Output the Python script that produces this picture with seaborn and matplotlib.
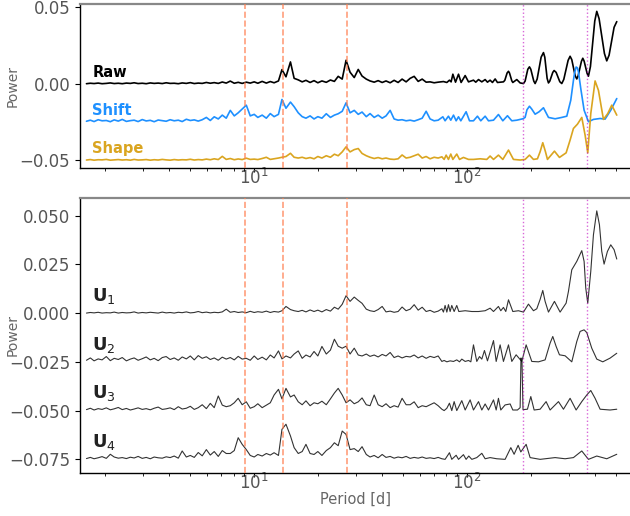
import numpy as np
import matplotlib
matplotlib.use("Agg")
import matplotlib.pyplot as plt
import seaborn as sns

# === periodogram values, power in units of 1e-4 ===
# shared short-period grid (days)
p_short = [1.63, 1.70, 1.77, 1.85, 1.93, 2.02, 2.11, 2.20, 2.30, 2.40,
           2.51, 2.62, 2.73, 2.85, 2.98, 3.11, 3.25, 3.39, 3.54, 3.70,
           3.86, 4.03, 4.21, 4.40, 4.59, 4.80, 5.01, 5.23, 5.46, 5.70,
           5.96, 6.22, 6.49, 6.78, 7.08, 7.39, 7.72, 8.06, 8.41, 8.78,
           9.18, 9.58, 10.0, 10.4, 10.9, 11.4, 11.9, 12.4, 13.0, 13.5,
           14.1, 14.8, 15.4, 16.1, 16.8, 17.5, 18.3, 19.1, 19.9, 20.8,
           21.8, 22.8, 23.8, 24.8, 25.9, 27.0, 28.2, 29.5, 30.8, 32.1,
           33.6, 35.0, 36.6, 38.2, 39.9, 41.6, 43.5, 45.4, 47.4, 49.5,
           51.7, 54.0, 56.4, 58.9, 61.5, 64.2, 67.0, 70.0, 73.1]

raw_short = [0, 3, 1, 4, 0, 2, 5, 1, 3, 0, 4, 2, 6, 1, 3, 0, 5, 2, 4, 1,
             6, 2, 3, 0, 5, 2, 7, 1, 4,
             2, 8, 3, 7, 2, 11, 4, 17, 3, 9, 2, 10, 4,
             12, 3, 15, 4, 14, 6, 18,
             92, 45, 142, 35, 25, 12, 22, 8, 20, 6,
             18, 9, 24, 15, 48, 30, 153, 75, 40, 93,
             50, 30, 18, 10, 20, 8, 18, 6, 22, 8,
             30, 12, 35, 48, 15, 30, 10, 12, 6, 10]
shift_short = [5, 12, 3, 15, 8, 10, 2, 14, 6, 17, 4, 9, 12, 3, 16, 7, 11, 2, 13, 9,
               5, 15, 8, 12, 3, 18, 10, 14, 6,
               15, 30, 10, 34, 20, 45, 25, 76, 40, 60, 85, 110, 40,
               50, 30, 45, 25, 55, 35, 50,
               147, 90, 130, 100, 60, 35, 25, 40, 20, 35,
               25, 54, 30, 45, 54, 70, 125, 60, 76, 50,
               65, 35, 55, 30, 45, 25, 40, 76, 20, 12,
               15, 8, 12, 6, 15, 25, 70, 20, 8, 12]
shape_short = [2, 5, 1, 4, 3, 6, 1, 3, 5, 2, 4, 1, 6, 2, 3, 5, 1, 4, 2, 6,
               3, 1, 5, 2, 4, 3, 7, 2, 5,
               3, 8, 4, 10, 5, 26, 6, 12, 4, 9, 5, 14, 6,
               8, 5, 12, 20, 6, 10, 15,
               20, 25, 46, 20, 15, 20, 12, 18, 10, 25,
               15, 30, 20, 40, 30, 55, 88, 55, 70, 77,
               45, 30, 20, 12, 18, 10, 15, 8, 6, 10,
               35, 15, 20, 30, 40, 15, 25, 10, 20, 15]

u1_short = [0, 3, 1, 4, 0, 2, 1, 5, 0, 3, 1, 2, 6, 0, 3, 1, 4, 2, 0, 5,
            1, 3, 0, 4, 2, 6, 1, 3, 8,
            2, 5, 1, 4, 2, 6, 20, 4, 8, 3, 6, 2, 9,
            3, 7, 4, 10, 3, 8, 5,
            12, 34, 18, 12, 8, 14, 6, 16, 8, 15,
            6, 18, 10, 30, 20, 45, 89, 60, 82, 65,
            50, 20, 12, 8, 18, 34, 6, 10, 4, 8,
            31, 12, 20, 43, 15, 30, 8, 14, 4, 10]
u2_short = [8, 20, 5, 15, 10, 27, 6, 18, 12, 22, 5, 14, 20, 8, 16, 25, 10, 18, 6, 22, 27,
            12, 20, 8, 25, 15, 30, 10, 32, 18, 26, 12, 20, 8, 24, 14,
            22, 10, 28, 14, 18, 8, 30, 12, 24, 10, 35, 20, 56,
            15, 30, 20, 40, 56, 18, 35, 25, 53, 30, 79, 40,
            60, 116, 80, 70, 80, 40, 70, 35, 30, 40,
            28, 35, 25, 38, 30, 48, 22, 30, 20, 28,
            25, 35, 20, 30, 18, 28, 22, 30]
u3_short = [5, 12, 3, 10, 6, 14, 4, 9, 16, 5, 11, 3, 8, 14, 6, 10, 4, 12, 18, 6, 9,
            14, 5, 20, 8, 12, 22, 6, 15, 30, 10, 37, 15, 75, 28, 20,
            25, 40, 63, 30, 45, 12, 20, 35, 15, 28, 40, 80, 109,
            60, 114, 70, 80, 45, 30, 50, 25, 40, 35, 48, 30,
            60, 90, 114, 80, 40, 55, 35, 45, 65, 30,
            25, 80, 30, 20, 35, 15, 25, 18, 63, 30,
            30, 45, 15, 25, 20, 30, 40, 25]
u4_short = [4, 10, 3, 8, 14, 5, 26, 12, 6, 9, 4, 11, 7, 15, 5, 10, 3, 12, 8, 6, 13,
            9, 17, 6, 43, 12, 20, 10, 35, 18, 50, 22, 40, 15, 45, 30,
            30, 45, 111, 77, 50, 20, 12, 25, 17, 30, 22, 34, 20,
            154, 180, 120, 60, 30, 40, 77, 30, 25, 40, 20, 45,
            60, 85, 70, 145, 128, 50, 55, 40, 65, 25,
            12, 20, 8, 25, 10, 15, 6, 12, 8, 15,
            5, 10, 6, 12, 5, 8, 4, 10]

# long-period parts: (period, power)
raw_long = [(77.4, 14), (80.3, 8), (82.6, 23), (84.1, 12), (85.7, 62), (88.2, 10),
            (91.1, 62), (93.7, 8), (97.9, 53), (101.5, 12), (107.1, 23), (109.8, 10),
            (113.1, 27), (117.2, 12), (121.5, 27), (124.6, 10), (128.2, 23), (131.5, 8),
            (135.4, 31), (138.8, 8), (148.1, 12), (150.3, 22), (154.1, 70), (156.4, 81),
            (158.1, 70), (162.1, 19), (163.9, 8), (171.1, 27), (177.4, 5), (183.9, 1),
            (187.2, 17), (192.7, 94), (196.2, 110), (199.1, 94), (205.6, 17), (208.6, 1),
            (213.2, 30), (222.6, 173), (228.3, 203), (231.6, 173), (237.5, 35), (241.0, 5),
            (244.5, 17), (252.5, 74), (256.2, 86), (261.8, 74), (272.4, 13), (278.3, 1),
            (284.4, 28), (298.0, 152), (304.5, 179), (310.1, 157), (321.5, 53), (327.3, 31),
            (332.1, 51), (344.2, 146), (349.3, 166), (354.3, 148), (366.0, 67), (371.3, 49),
            (379.4, 112), (397.6, 409), (406.3, 472), (416.7, 424), (441.4, 197),
            (452.6, 149), (464.2, 186), (490.0, 368), (504.4, 405)]
shift_long = [(76.9, 34), (78.8, 8), (81.7, 38), (83.8, 12), (86.3, 45), (88.8, 8),
              (91.1, 34), (93.4, 8), (98.9, 67), (102.6, 8), (107.1, 8), (111.8, 38),
              (115.9, 8), (121.5, 38), (126.0, 8), (133.0, 12), (140.3, 49), (147.1, 8),
              (154.7, 41), (162.1, 8), (171.1, 12), (182.6, 21), (187.2, 30), (191.0, 80),
              (196.2, 103), (201.0, 85), (208.6, 51), (217.8, 67), (228.3, 93), (241.0, 30),
              (259.0, 21), (278.3, 30), (293.8, 38), (306.7, 142), (315.7, 272),
              (319.2, 316), (325.0, 359), (329.7, 353), (333.3, 327), (341.8, 218),
              (354.3, 77), (371.3, 2), (391.9, 17), (421.2, 23), (444.6, 19),
              (472.6, 77), (504.4, 153)]
shape_long = [(76.1, 23), (78.0, 6), (79.7, 34), (81.7, 6), (83.8, 41), (85.7, 6),
              (89.4, 41), (92.1, 6), (96.1, 19), (101.5, 6), (107.1, 6), (115.1, 10),
              (123.7, 6), (128.2, 28), (133.0, 6), (140.3, 34), (147.1, 6), (156.4, 67),
              (165.0, 6), (177.4, 2), (187.2, 6), (196.2, 34), (204.9, 6), (213.9, 10),
              (220.2, 56), (226.6, 115), (233.3, 56), (238.4, 6), (257.1, 60), (271.4, 19),
              (291.7, 49), (304.5, 132), (315.7, 208), (329.7, 236), (345.5, 280),
              (358.2, 164), (368.6, 49), (380.8, 305), (399.0, 518), (413.7, 457),
              (436.7, 267), (457.5, 305), (477.8, 360), (504.4, 295)]

u1_long = [(76.1, 22), (77.4, 5), (78.8, 39), (80.3, 5), (81.7, 43), (83.2, 8),
           (84.7, 39), (86.9, 8), (89.4, 39), (91.4, 8), (97.9, 12), (105.2, 8),
           (113.1, 8), (121.5, 12), (128.2, 25), (133.0, 8), (140.3, 34), (143.9, 12),
           (148.1, 29), (151.9, 8), (156.4, 68), (163.9, 8), (174.2, 12), (183.9, 5),
           (194.1, 46), (204.9, 12), (212.4, 22), (220.2, 70), (226.6, 116), (232.4, 60),
           (241.0, 5), (257.1, 60), (273.3, 5), (291.7, 51), (299.1, 111), (310.1, 222),
           (327.3, 265), (345.5, 320), (354.3, 265), (360.7, 128), (368.6, 51),
           (380.8, 214), (391.9, 401), (406.3, 524), (418.2, 453), (428.8, 316),
           (439.8, 251), (455.9, 316), (472.6, 350), (490.0, 325), (504.4, 277)]
u2_long = [(76.1, 2), (78.0, 7), (80.3, 0), (83.2, 5), (86.3, 2), (89.4, 10), (92.1, 0),
           (94.4, 14), (97.9, 2), (101.5, 7), (104.1, 0), (107.1, 87), (111.0, 2),
           (114.3, 27), (117.2, 14), (120.6, 58), (124.6, 5), (133.0, 109), (136.9, 2),
           (142.9, 87), (148.1, 2), (156.4, 87), (162.1, 2), (169.9, 36), (180.6, 2),
           (189.3, 87), (201.2, 2), (216.3, 0), (232.4, 10), (245.3, 96), (252.5, 130),
           (261.8, 79), (271.4, 36), (288.5, 31), (310.1, 0), (327.3, 104), (339.3, 156),
           (354.3, 164), (364.7, 150), (384.9, 70), (406.3, 14), (433.5, 0),
           (469.2, 19), (504.4, 44)]
u3_long = [(76.1, 7), (78.0, 0), (80.3, 12), (82.6, 38), (84.7, 0), (86.9, 46), (89.4, 0),
           (94.4, 51), (97.9, 3), (103.3, 55), (107.1, 3), (113.1, 46), (117.2, 3),
           (121.5, 34), (126.0, 3), (133.0, 55), (136.9, 3), (140.3, 63), (143.9, 3),
           (150.8, 29), (159.2, 34), (163.9, 3), (172.3, 3), (177.4, 15), (179.0, 270),
           (181.0, 250), (183.0, 5), (192.0, 7), (199.1, 72), (206.4, 3), (220.2, 7),
           (234.9, 46), (245.3, 3), (268.5, 46), (283.4, 7), (304.5, 63), (325.0, 3),
           (345.5, 46), (364.7, 80), (380.8, 103), (399.0, 63), (421.2, 7),
           (469.2, 3), (504.4, 7)]
u4_long = [(76.1, 3), (78.8, 0), (82.6, 34), (84.7, 0), (88.8, 21), (91.1, 0), (96.1, 24),
           (98.9, 0), (101.8, 17), (105.2, 0), (111.0, 9), (117.2, 31), (121.5, 3),
           (128.2, 9), (137.8, 3), (150.8, 0), (160.4, 60), (166.2, 26), (173.6, 72),
           (178.7, 38), (189.3, 77), (197.6, 9), (220.2, 0), (259.0, 9), (288.5, 3),
           (315.7, 9), (345.5, 43), (371.3, 0), (406.3, 17), (452.6, 3), (504.4, 26)]

harmonics = [9.1, 13.65, 27.3]      # rotation period and harmonics
seasonal = [182.6, 365.25]          # half-year, year


def series(short, long):
    p = list(p_short) + [q for q, _ in long]
    v = list(short) + [w for _, w in long]
    return np.array(p), np.array(v) * 1e-4


sns.set_style("ticks")
fig = plt.figure(figsize=(6.3, 5.16), dpi=100)
ax1 = fig.add_axes([80 / 630, 348 / 516, 550 / 630, 164 / 516])
ax2 = fig.add_axes([80 / 630, 43 / 516, 550 / 630, 275 / 516])

# --- top panel: raw / shift / shape ---
top = [("Raw", raw_short, raw_long, "black", 0.0),
       ("Shift", shift_short, shift_long, "#1e90ff", -0.025),
       ("Shape", shape_short, shape_long, "#daa520", -0.05)]
for name, s, l, c, off in top:
    p, v = series(s, l)
    sns.lineplot(x=p, y=v + off, ax=ax1, color=c, lw=1.2, estimator=None, sort=False)
    ax1.text(1.735, off + 0.0045, name, color=c, fontsize=10.5, fontweight="bold",
             va="baseline", ha="left")

# --- bottom panel: U components ---
bottom = [(r"$\mathbf{U}_1$", u1_short, u1_long, 0.0),
          (r"$\mathbf{U}_2$", u2_short, u2_long, -0.025),
          (r"$\mathbf{U}_3$", u3_short, u3_long, -0.05),
          (r"$\mathbf{U}_4$", u4_short, u4_long, -0.075)]
for name, s, l, off in bottom:
    p, v = series(s, l)
    sns.lineplot(x=p, y=v + off, ax=ax2, color="black", lw=0.8, alpha=0.8,
                 estimator=None, sort=False)
    ax2.text(1.735, off + 0.0062, name, color="#222222", fontsize=13,
             va="baseline", ha="left")

for ax in (ax1, ax2):
    ax.set_xscale("log")
    ax.set_xlim(1.52, 582)
    for h in harmonics:
        ax.axvline(h, color="coral", ls="--", lw=1.2, alpha=0.75, zorder=3)
    for s in seasonal:
        ax.axvline(s, color="m", ls=":", lw=1.0, alpha=0.6, zorder=3)
    ax.spines["right"].set_visible(False)
    ax.spines["top"].set_color("#888888")
    ax.spines["top"].set_linewidth(1.6)
    for side in ("left", "bottom"):
        ax.spines[side].set_color("black")
        ax.spines[side].set_linewidth(1.0)
    ax.tick_params(axis="y", which="major", direction="out", length=3.5, width=0.8,
                   color="black", labelcolor="#555555", labelsize=12)
    ax.tick_params(axis="y", which="minor", left=False)
    ax.tick_params(axis="x", which="major", direction="out", length=3, width=0.8,
                   pad=-3, color="black", labelcolor="#555555", labelsize=12)
    ax.tick_params(axis="x", which="minor", direction="out", length=2, width=0.6,
                   color="black")
    ax.set_ylabel("Power", fontsize=10, color="#666666")
    ax.yaxis.set_label_coords(-0.11, 0.5)

ax1.set_ylim(-0.055, 0.052)
ax1.set_yticks([-0.05, 0.0, 0.05])
ax1.set_xlabel("")

ax2.set_ylim(-0.082, 0.059)
ax2.set_yticks([-0.075, -0.05, -0.025, 0.0, 0.025, 0.05])
ax2.set_xlabel("Period [d]", fontsize=10.5, color="#666666", labelpad=-1)

fig.savefig("out.png", dpi=100)
